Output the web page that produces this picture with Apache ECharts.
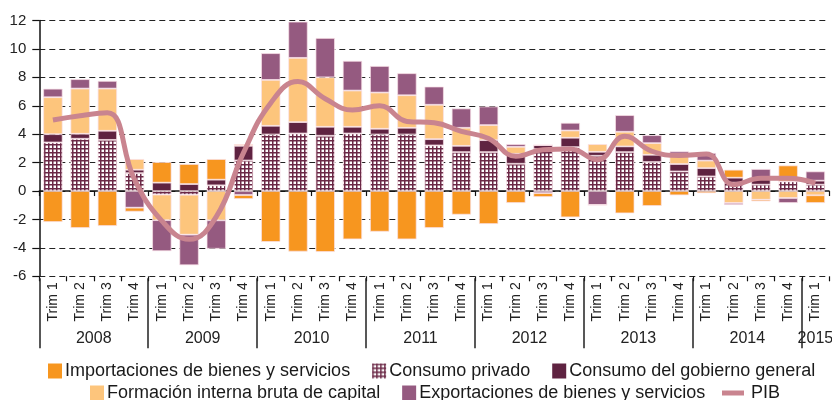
<!DOCTYPE html>
<html>
<head>
<meta charset="utf-8">
<script src="https://cdn.jsdelivr.net/npm/echarts@6/dist/echarts.min.js"></script>
<style>
html,body{margin:0;padding:0;background:#fff;}
#c{width:832px;height:400px;}
</style>
</head>
<body>
<div id="c"></div>
<script>
// ---- data ----
const categories = ['Trim 1','Trim 2','Trim 3','Trim 4','Trim 1','Trim 2','Trim 3','Trim 4','Trim 1','Trim 2','Trim 3','Trim 4','Trim 1','Trim 2','Trim 3','Trim 4','Trim 1','Trim 2','Trim 3','Trim 4','Trim 1','Trim 2','Trim 3','Trim 4','Trim 1','Trim 2','Trim 3','Trim 4','Trim 1'];
const years = ['2008','2009','2010','2011','2012','2013','2014','2015'];
const yearStarts = [0,4,8,12,16,20,24,28];
const yearCenters = [2,6,10,14,18,22,26,28.5];
const consumoPrivado = [3.42,3.68,3.60,1.26,-0.25,-0.26,0.40,2.15,3.98,4.05,3.89,4.05,3.98,3.98,3.21,2.74,2.74,1.92,2.95,3.09,2.48,2.74,2.04,1.38,1.03,0.59,0.45,0.68,0.45];
const consumoGobierno = [0.58,0.35,0.64,0.24,0.59,0.49,0.40,1.03,0.61,0.80,0.63,0.47,0.40,0.47,0.44,0.44,0.84,0.70,0.28,0.66,0.28,0.40,0.51,0.52,0.58,0.35,0.46,0,0.28];
const formacion = [2.60,3.18,2.97,0.75,-1.80,-2.81,-2.06,0.12,3.23,4.52,3.48,2.55,2.55,2.29,2.42,1.27,1.06,0.49,0,0.51,0.54,1.03,0.82,0.72,0.53,-0.84,-0.61,-0.49,-0.30];
const exportaciones = [0.60,0.66,0.54,-1.17,-2.18,-2.15,-2.00,-0.28,1.88,2.55,2.77,2.09,1.87,1.55,1.28,1.36,1.31,0.19,-0.15,0.54,-0.98,1.17,0.56,0.17,0.54,-0.14,0.64,-0.35,0.65];
const importaciones = [-2.18,-2.60,-2.46,-0.28,1.45,1.41,1.45,-0.28,-3.58,-4.26,-4.29,-3.40,-2.86,-3.40,-2.60,-1.66,-2.32,-0.84,-0.27,-1.85,0,-1.57,-1.05,-0.30,-0.15,0.56,-0.12,1.12,-0.54];
const pib = [5.0,5.3,5.5,0.8,-2.1,-3.4,-1.8,2.7,6.2,7.7,6.5,5.7,6.0,4.9,4.8,4.2,3.7,2.45,2.9,2.95,2.2,3.85,2.8,2.5,2.6,0.45,0.9,0.9,0.55];
const yTicks = {min:-6, max:12, interval:2};

const names = {
  imp:'Importaciones de bienes y servicios',
  priv:'Consumo privado',
  gob:'Consumo del gobierno general',
  form:'Formación interna bruta de capital',
  exp:'Exportaciones de bienes y servicios',
  pib:'PIB'
};

function hatch(){
  const c=document.createElement('canvas'); c.width=4; c.height=4;
  const g=c.getContext('2d');
  g.fillStyle='#ffffff'; g.fillRect(0,0,4,4);
  g.fillStyle='#6b2846'; g.fillRect(0,0,4,1.5); g.fillRect(0,0,1.5,4);
  return c;
}

const FONT = '"Liberation Sans", Arial, sans-serif';
const chart = echarts.init(document.getElementById('c'), null, {renderer:'canvas'});
const border = {borderColor:'rgba(250,225,232,0.9)', borderWidth:0.8};
function bar(name, data, color){
  return {name, type:'bar', stack:'t', xAxisIndex:0, yAxisIndex:0, data,
    barWidth:'71%', itemStyle:Object.assign({color}, border), emphasis:{disabled:true}};
}
const legendText = {fontFamily:FONT, fontSize:18, color:'#1a1a1a', padding:[0,0,0,-2]};
chart.setOption({
  animation:false,
  textStyle:{fontFamily:FONT},
  grid:{left:39.3, right:3, top:20.5, bottom:123.7, containLabel:false, outerBoundsMode:'none'},
  legend:[
    {left:48, top:362, padding:0, itemWidth:14, itemHeight:15, itemGap:22, selectedMode:false, icon:'rect',
     itemStyle:{borderWidth:0},
     data:[names.imp, names.priv, names.gob], textStyle:legendText},
    {left:90, top:384, padding:0, itemWidth:14, itemHeight:15, itemGap:22, selectedMode:false, icon:'rect',
     itemStyle:{borderWidth:0},
     data:[names.form, names.exp], textStyle:legendText},
    {left:722, top:384, padding:0, itemWidth:22, itemHeight:5, selectedMode:false, icon:'rect',
     data:[names.pib], textStyle:Object.assign({}, legendText, {padding:[0,0,0,2]})}
  ],
  xAxis:[
    {type:'category', data:categories, position:'bottom',
     axisLine:{show:true, onZero:true, lineStyle:{color:'#111', width:1.5}},
     axisTick:{show:true, length:5, lineStyle:{color:'#111', width:1.2}},
     axisLabel:{show:false}, splitLine:{show:false}},
    {type:'category', data:categories, position:'bottom',
     axisLine:{show:false, onZero:false},
     axisTick:{show:true, length:5, lineStyle:{color:'#111', width:1.2}},
     axisLabel:{show:true, interval:0, rotate:90, margin:6, fontSize:14, color:'#222', fontFamily:FONT},
     splitLine:{show:false}},
    {type:'value', min:0, max:categories.length, position:'bottom', offset:72,
     axisLine:{show:false, onZero:false},
     axisTick:{show:true, inside:true, length:70, customValues:yearStarts, lineStyle:{color:'#222', width:1.5}},
     axisLabel:{show:true, inside:true, margin:2, fontSize:16, color:'#222', fontFamily:FONT,
       customValues:yearCenters, formatter:function(v){return years[Math.floor(v/4)];}},
     splitLine:{show:false}}
  ],
  yAxis:{type:'value', min:yTicks.min, max:yTicks.max, interval:yTicks.interval,
    axisLine:{show:true, onZero:false, lineStyle:{color:'#111', width:1.5}},
    axisTick:{show:true, length:7, lineStyle:{color:'#111', width:1.2}},
    axisLabel:{margin:13, fontSize:15, color:'#222', fontFamily:FONT},
    splitLine:{show:true, lineStyle:{color:'#222', width:1, type:[6,4]}}},
  series:[
    bar(names.priv, consumoPrivado, {image:hatch(), repeat:'repeat'}),
    bar(names.gob, consumoGobierno, '#5f2341'),
    bar(names.form, formacion, '#fdc57c'),
    bar(names.exp, exportaciones, '#955a80'),
    bar(names.imp, importaciones, '#f7961f'),
    {name:names.pib, type:'line', data:pib, smooth:0.45, symbol:'none', z:5,
     lineStyle:{color:'#c9848f', width:5}, itemStyle:{color:'#c9848f'}, emphasis:{disabled:true}}
  ]
});
</script>
</body>
</html>
